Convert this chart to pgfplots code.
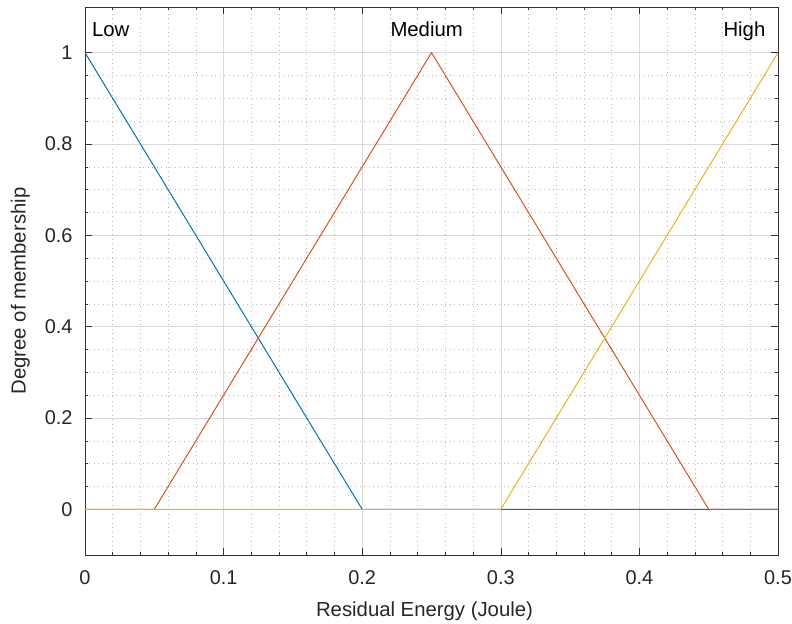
\documentclass[border=0pt]{standalone}
\usepackage{pgfplots}
\pgfplotsset{compat=1.18}
\usepackage{fontspec}
\setmainfont{Liberation Sans}
\definecolor{mblue}{rgb}{0,0.447,0.741}
\definecolor{morange}{rgb}{0.85,0.325,0.098}
\definecolor{myellow}{rgb}{0.929,0.694,0.125}
\begin{document}
\begin{tikzpicture}
\begin{axis}[
  scale only axis,
  width=693bp, height=548bp,
  xmin=0, xmax=0.5, ymin=-0.1, ymax=1.1,
  xtick={0,0.1,0.2,0.3,0.4,0.5},
  ytick={0,0.2,0.4,0.6,0.8,1},
  minor x tick num=4,
  minor y tick num=3,
  tick align=inside,
  major tick length=7bp,
  minor tick length=3.5bp,
  tick style={black!80, line width=0.6bp},
  grid=both,
  major grid style={line width=0.6bp, black!15},
  minor grid style={line width=0.6bp, black!28, dash pattern=on 1bp off 3.5bp},
  axis line style={line width=0.8bp, black!80},
  /pgf/number format/assume math mode=true,
  ticklabel style={font=\fontsize{20}{22}\selectfont, text=black!85},
  xticklabel style={yshift=-12bp},
  yticklabel style={xshift=-9bp},
  xlabel={Residual Energy (Joule)},
  ylabel={Degree of membership},
  label style={font=\fontsize{20.4}{22}\selectfont, text=black!85},
  xlabel style={yshift=-10bp, xshift=-7bp},
  ylabel style={yshift=8bp, xshift=-10bp},
]
\addplot[mblue, line width=1bp] coordinates {(0,1) (0.2,0) (0.5,0)};
\addplot[morange, line width=1bp] coordinates {(0,0) (0.05,0) (0.25,1) (0.45,0) (0.5,0)};
\addplot[myellow, line width=1bp] coordinates {(0,0) (0.3,0) (0.5,1)};
\node[anchor=base west, inner sep=0pt, font=\fontsize{20.4}{22}\selectfont] at (axis cs:0.005,1.035) {Low};
\node[anchor=base, inner sep=0pt, font=\fontsize{20.4}{22}\selectfont] at (axis cs:0.2465,1.035) {Medium};
\node[anchor=base east, inner sep=0pt, font=\fontsize{20.4}{22}\selectfont] at (axis cs:0.491,1.035) {High};
\coordinate (bl) at (rel axis cs:0,0);
\coordinate (tr) at (rel axis cs:1,1);
\end{axis}
\pgfresetboundingbox
\path ([shift={(-85bp,-69bp)}]bl) rectangle ([shift={(14bp,7bp)}]tr);
\end{tikzpicture}
\end{document}
